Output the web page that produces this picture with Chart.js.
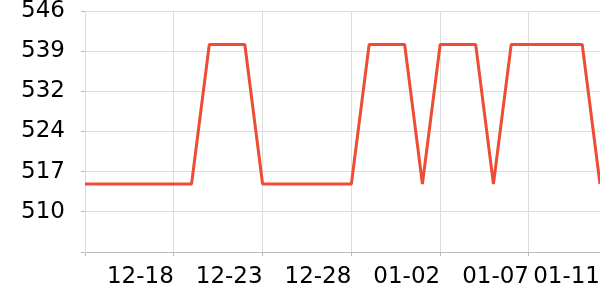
<!DOCTYPE html>
<html>
<head>
<meta charset="utf-8">
<script src="https://cdn.jsdelivr.net/npm/chart.js@4"></script>
<style>
html,body{margin:0;padding:0;background:#fff;}
#wrap{width:600px;height:300px;}
</style>
</head>
<body>
<div id="wrap"><canvas id="c" width="600" height="300"></canvas></div>
<script>
const categories = ["12-13","12-14","12-15","12-16","12-17","12-18","12-19","12-20","12-21","12-22","12-23","12-24","12-25","12-26","12-27","12-28","12-29","12-30","12-31","01-01","01-02","01-03","01-04","01-05","01-06","01-07","01-08","01-09","01-10","01-11"];
const values = [515,515,515,515,515,515,515,540,540,540,515,515,515,515,515,515,540,540,540,515,540,540,540,515,540,540,540,540,540,515];
const labeledIndices = [5,10,15,20,25,29];
const gridIndices = [0,5,10,15,20,25];
const yMin = 502.8, yMax = 546, yStep = 7.2;

function zeroPad(s) { s.paddingLeft = 0; s.paddingRight = 0; s.paddingTop = 0; s.paddingBottom = 0; }

new Chart(document.getElementById('c'), {
  type: 'line',
  data: {
    labels: categories,
    datasets: [{
      data: values,
      borderColor: '#ee4c34',
      borderWidth: 3,
      borderJoinStyle: 'bevel',
      pointRadius: 0,
      tension: 0,
      fill: false
    }]
  },
  options: {
    responsive: false,
    animation: false,
    layout: { padding: { top: 11, right: 0, left: 0, bottom: 0 } },
    plugins: { legend: { display: false }, tooltip: { enabled: false } },
    scales: {
      x: {
        offset: false,
        grid: {
          color: ctx => gridIndices.includes(ctx.index) ? '#dddddd' : 'rgba(0,0,0,0)',
          tickColor: ctx => gridIndices.includes(ctx.index) ? '#bbbbbb' : 'rgba(0,0,0,0)',
          tickLength: 4
        },
        border: { color: '#bbbbbb' },
        ticks: {
          autoSkip: false,
          maxRotation: 0,
          minRotation: 0,
          align: 'end',
          padding: 7,
          color: '#000',
          font: { family: 'DejaVu Sans', size: 23 },
          callback: function(v, i) { return labeledIndices.includes(i) ? categories[i] : ''; }
        },
        afterFit: s => { s.height = 48; zeroPad(s); }
      },
      y: {
        min: yMin,
        max: yMax,
        grid: { color: '#dddddd', tickColor: '#bbbbbb', tickLength: 4 },
        border: { color: '#dddddd' },
        ticks: {
          stepSize: yStep,
          padding: 16,
          color: '#000',
          font: { family: 'DejaVu Sans', size: 23 },
          callback: v => (Math.abs(v - yMin) < 0.01 ? '' : Math.round(v))
        },
        afterFit: s => { s.width = 85; zeroPad(s); }
      }
    }
  }
});
</script>
</body>
</html>
